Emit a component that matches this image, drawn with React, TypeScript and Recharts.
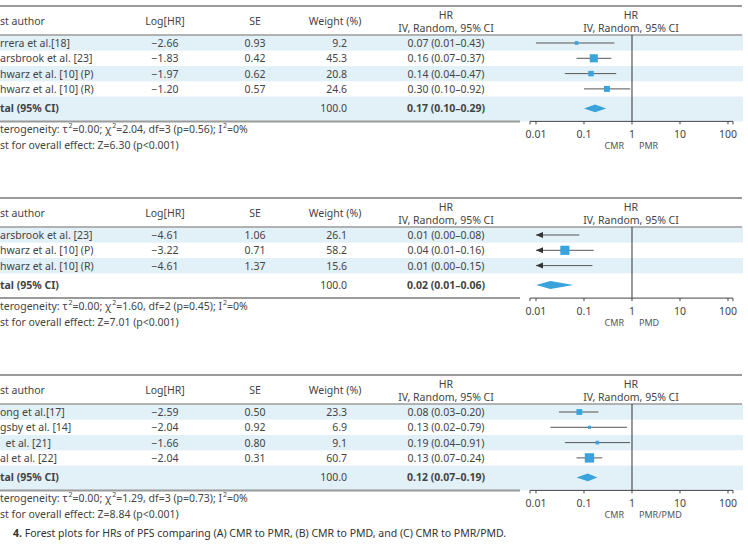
import React from "react";
import { ComposedChart, XAxis, YAxis, Scatter, Area, ReferenceLine } from "recharts";

const FONT = '"Noto Sans", "Open Sans", sans-serif';
const TEXT = "#444";
const BAND = "#e2f0f8";
const RULE = "#9a9a9a";
const BLUE = "#3aa3dc";
const LINE = "#555";

// layout (px)
const WIDTH = 748;
const ROW = 15.3;
const TOTAL_GAP = 19.5;
const BOTTOM_GAP = 13;
const AXIS_SPACE = 40;
const PLOT_LEFT = 530;
const PLOT_RIGHT = 733;
const DIAMOND_H = 0.26;

const X_DOMAIN = [0.0075, 127];
const X_TICKS = [0.0075, 0.01, 0.1, 1, 10, 100, 127];
const X_LABELS = [0.01, 0.1, 1, 10, 100];

// (A) CMR vs PMR
const authorsA = ["rrera et al.[18]", "arsbrook et al. [23]", "hwarz et al. [10] (P)", "hwarz et al. [10] (R)"];
const logHrA = [-2.66, -1.83, -1.97, -1.2];
const seA = [0.93, 0.42, 0.62, 0.57];
const weightA = [9.2, 45.3, 20.8, 24.6];
const hrA = [0.07, 0.16, 0.14, 0.3];
const lowA = [0.01, 0.07, 0.04, 0.1];
const highA = [0.43, 0.37, 0.47, 0.92];
const arrowA = [false, false, false, false];
const totalA = [0.17, 0.1, 0.29];
const hetA = ["2.04", "3", "0.56"];
const zA = "6.30";

// (B) CMR vs PMD
const authorsB = ["arsbrook et al. [23]", "hwarz et al. [10] (P)", "hwarz et al. [10] (R)"];
const logHrB = [-4.61, -3.22, -4.61];
const seB = [1.06, 0.71, 1.37];
const weightB = [26.1, 58.2, 15.6];
const hrB = [0.01, 0.04, 0.01];
const lowB = [0.0, 0.01, 0.0];
const highB = [0.08, 0.16, 0.15];
const arrowB = [true, true, true];
const totalB = [0.02, 0.01, 0.06];
const hetB = ["1.60", "2", "0.45"];
const zB = "7.01";

// (C) CMR vs PMR/PMD
const authorsC = ["ong et al.[17]", "gsby et al. [14]", "\u00a0\u00a0et al. [21]", "al et al. [22]"];
const logHrC = [-2.59, -2.04, -1.66, -2.04];
const seC = [0.5, 0.92, 0.8, 0.31];
const weightC = [23.3, 6.9, 9.1, 60.7];
const hrC = [0.08, 0.13, 0.19, 0.13];
const lowC = [0.03, 0.02, 0.04, 0.07];
const highC = [0.2, 0.79, 0.91, 0.24];
const arrowC = [false, false, false, false];
const totalC = [0.12, 0.07, 0.19];
const hetC = ["1.29", "3", "0.73"];
const zC = "8.84";

const panels = [
  { rule: 35, authors: authorsA, logHr: logHrA, se: seA, weight: weightA, hr: hrA, low: lowA, high: highA, arrow: arrowA, total: totalA, het: hetA, z: zA, groups: ["CMR", "PMR"] },
  { rule: 227, authors: authorsB, logHr: logHrB, se: seB, weight: weightB, hr: hrB, low: lowB, high: highB, arrow: arrowB, total: totalB, het: hetB, z: zB, groups: ["CMR", "PMD"] },
  { rule: 404, authors: authorsC, logHr: logHrC, se: seC, weight: weightC, hr: hrC, low: lowC, high: highC, arrow: arrowC, total: totalC, het: hetC, z: zC, groups: ["CMR", "PMR/PMD"] },
];

const signed = (v: number) => (v < 0 ? "\u2212" + Math.abs(v).toFixed(2) : v.toFixed(2));
const ci = (hr: number, lo: number, hi: number) => `${hr.toFixed(2)} (${lo.toFixed(2)}\u2013${hi.toFixed(2)})`;

function geometry(p: any) {
  const n = p.hr.length;
  const first = p.rule + 8;
  const total = first + ROW * (n - 1) + TOTAL_GAP;
  const bottom = total + BOTTOM_GAP;
  return { n, first, total, bottom };
}

const Square = (props: any) => {
  const s = 1.2 * Math.sqrt(props.payload.weight);
  return <rect x={props.cx - s / 2} y={props.cy - s / 2} width={s} height={s} fill={BLUE} />;
};

const ArrowHead = (props: any) => (
  <polygon
    points={`${props.cx},${props.cy} ${props.cx + 7},${props.cy - 3} ${props.cx + 7},${props.cy + 3}`}
    fill="#333"
  />
);

function Sup({ children }: { children: string }) {
  return (
    <>
      <tspan dy={-4} dx={1} fontSize={7}>2</tspan>
      <tspan dy={4}>{children}</tspan>
    </>
  );
}

function PanelTable({ p }: { p: any }) {
  const { n, first, total, bottom } = geometry(p);
  const head = p.rule - 14;
  const bands = [];
  for (let i = 0; i < n; i++) {
    if (i % 2 === 0) {
      bands.push(<rect key={i} x={0} y={first + ROW * i - ROW / 2} width={743} height={ROW} fill={BAND} />);
    }
  }
  if (n % 2 === 0) {
    const top = first + ROW * (n - 1) + ROW / 2;
    bands.push(<rect key="t" x={0} y={top} width={743} height={bottom - top} fill={BAND} />);
  }
  return (
    <g fontFamily={FONT} fontSize={10.5} fill={TEXT} dominantBaseline="central">
      {bands}
      <line x1={0} x2={742} y1={p.rule - 29} y2={p.rule - 29} stroke={RULE} strokeWidth={2} />
      <line x1={0} x2={742} y1={p.rule} y2={p.rule} stroke={RULE} strokeWidth={1.5} />
      <line x1={0} x2={520} y1={bottom} y2={bottom} stroke={RULE} strokeWidth={2} />

      <text x={0} y={head}>st author</text>
      <text x={165} y={head} textAnchor="middle">Log[HR]</text>
      <text x={255} y={head} textAnchor="middle">SE</text>
      <text x={335} y={head} textAnchor="middle">Weight (%)</text>
      <text x={446} y={head - 6.5} textAnchor="middle">HR</text>
      <text x={446} y={head + 6.5} textAnchor="middle">IV, Random, 95% CI</text>
      <text x={631} y={head - 6.5} textAnchor="middle">HR</text>
      <text x={631} y={head + 6.5} textAnchor="middle">IV, Random, 95% CI</text>

      {p.authors.map((a: string, i: number) => {
        const y = first + ROW * i;
        return (
          <g key={i}>
            <text x={0} y={y} style={{ whiteSpace: "pre" }}>{a}</text>
            <text x={165} y={y} textAnchor="middle">{signed(p.logHr[i])}</text>
            <text x={255} y={y} textAnchor="middle">{p.se[i].toFixed(2)}</text>
            <text x={347} y={y} textAnchor="end">{p.weight[i].toFixed(1)}</text>
            <text x={446} y={y} textAnchor="middle">{ci(p.hr[i], p.low[i], p.high[i])}</text>
          </g>
        );
      })}
      <text x={0} y={total} fontWeight="bold">tal (95% CI)</text>
      <text x={347} y={total} textAnchor="end">100.0</text>
      <text x={446} y={total} textAnchor="middle" fontWeight="bold">{ci(p.total[0], p.total[1], p.total[2])}</text>

      <text x={0} y={bottom + 8}>
        terogeneity: τ<Sup>=0.00; χ</Sup>
        <tspan dy={-4} dx={1} fontSize={7}>2</tspan>
        <tspan dy={4}>{`=${p.het[0]}, df=${p.het[1]} (p=${p.het[2]}); I`}</tspan>
        <Sup>=0%</Sup>
      </text>
      <text x={0} y={bottom + 24}>{`st for overall effect: Z=${p.z} (p<0.001)`}</text>

      <text x={624} y={bottom + 24} textAnchor="end" fontSize={9} fill="#555">{p.groups[0]}</text>
      <text x={639} y={bottom + 24} fontSize={9} fill="#555">{p.groups[1]}</text>
    </g>
  );
}

function ForestChart({ p }: { p: any }) {
  const { first, total, bottom } = geometry(p);
  const yTop = (p.rule - first) / ROW;
  const yBottom = (bottom - first) / ROW;
  const rTotal = (total - first) / ROW;
  const plotH = bottom - p.rule;

  const squares = p.hr
    .map((hr: number, i: number) => ({ hr, row: i, weight: p.weight[i] }))
    .filter((d: any) => d.hr > 0.01);
  const arrows = p.arrow
    .map((a: boolean, i: number) => (a ? { hr: 0.01, row: i } : null))
    .filter(Boolean);
  const diamond = [
    { hr: p.total[1], band: [rTotal, rTotal] },
    { hr: p.total[0], band: [rTotal - DIAMOND_H, rTotal + DIAMOND_H] },
    { hr: p.total[2], band: [rTotal, rTotal] },
  ];

  return (
    <div style={{ position: "absolute", left: 0, top: p.rule }}>
      <ComposedChart
        width={WIDTH}
        height={plotH + AXIS_SPACE}
        margin={{ top: 0, right: WIDTH - PLOT_RIGHT, bottom: 0, left: PLOT_LEFT }}
      >
        <XAxis
          type="number"
          dataKey="hr"
          scale="log"
          domain={X_DOMAIN}
          allowDataOverflow
          ticks={X_TICKS}
          interval={0}
          tickFormatter={(v: number) => (X_LABELS.includes(v) ? String(v) : "")}
          height={AXIS_SPACE}
          tickSize={3}
          tickMargin={6}
          axisLine={{ stroke: "#444" }}
          tickLine={{ stroke: "#444" }}
          tick={{ fontSize: 10.5, fill: TEXT, fontFamily: FONT }}
        />
        <YAxis type="number" dataKey="row" domain={[yTop, yBottom]} reversed hide allowDataOverflow />
        <ReferenceLine x={1} stroke="#333" strokeWidth={1} />
        {p.low.map((lo: number, i: number) => (
          <ReferenceLine
            key={i}
            segment={[
              { x: Math.max(lo, 0.01), y: i },
              { x: p.high[i], y: i },
            ]}
            stroke={LINE}
            strokeWidth={1}
            ifOverflow="visible"
          />
        ))}
        <Area
          data={diamond}
          dataKey="band"
          type="linear"
          stroke="none"
          fill={BLUE}
          fillOpacity={1}
          dot={false}
          activeDot={false}
          isAnimationActive={false}
        />
        <Scatter data={squares} shape={Square} isAnimationActive={false} />
        <Scatter data={arrows} shape={ArrowHead} isAnimationActive={false} />
      </ComposedChart>
    </div>
  );
}

export default function App() {
  return (
    <div style={{ position: "absolute", left: 0, top: 0, width: WIDTH, height: 555, background: "#fff", overflow: "hidden" }}>
      <svg width={WIDTH} height={555} style={{ position: "absolute", left: 0, top: 0 }}>
        {panels.map((p, i) => (
          <PanelTable key={i} p={p} />
        ))}
        <text x={13} y={533} fontFamily={FONT} fontSize={10.5} fill="#333" dominantBaseline="central">
          <tspan fontWeight="bold">4.</tspan>
          {" Forest plots for HRs of PFS comparing (A) CMR to PMR, (B) CMR to PMD, and (C) CMR to PMR/PMD."}
        </text>
      </svg>
      {panels.map((p, i) => (
        <ForestChart key={i} p={p} />
      ))}
    </div>
  );
}
